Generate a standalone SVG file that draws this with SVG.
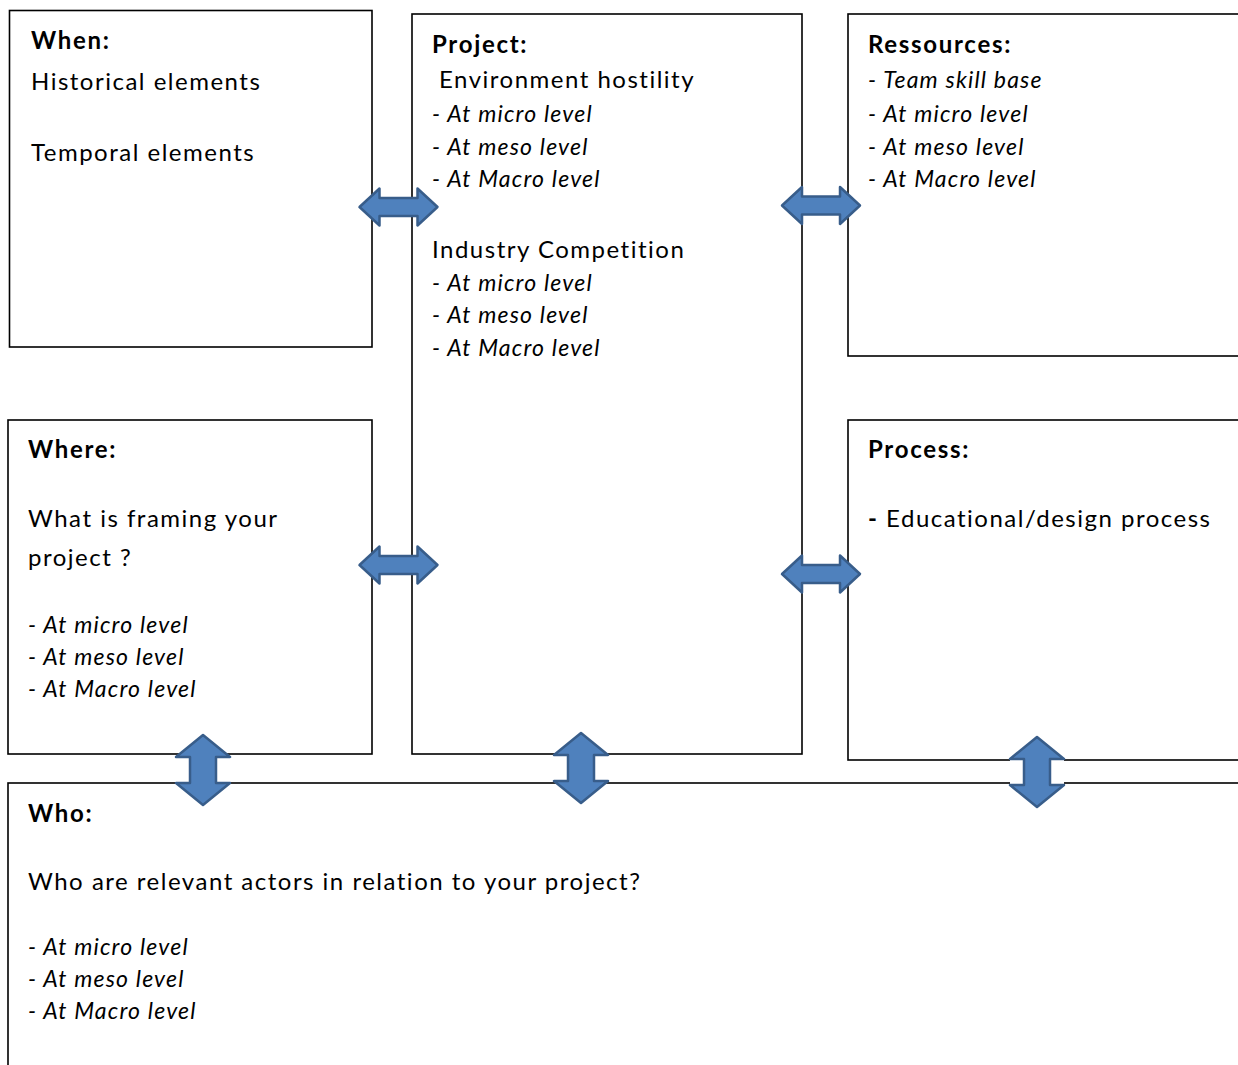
<svg xmlns="http://www.w3.org/2000/svg" width="1238" height="1065" viewBox="0 0 1238 1065" xmlns:xlink="http://www.w3.org/1999/xlink">
<style>
.box{fill:#fff;stroke:#000;stroke-width:1.6}
text{font-family:Lato,"Liberation Sans",sans-serif;fill:#000}
.t{font-size:24px;letter-spacing:1.5px}
.b{font-size:24px;font-weight:bold;letter-spacing:1.7px}
.i{font-size:23px;font-style:italic;letter-spacing:1.2px}
.arr{fill:#4F81BD;stroke:#385D8A;stroke-width:2.5;stroke-linejoin:round}
</style>
<defs>
<path id="harr" d="M-39,0 L-19,-18.5 L-19,-9 L19,-9 L19,-18.5 L39,0 L19,18.5 L19,9 L-19,9 L-19,18.5 Z"/>
<path id="varr" d="M0,-35 L27,-13 L13,-13 L13,13 L27,13 L0,35 L-27,13 L-13,13 L-13,-13 L-27,-13 Z"/>
</defs>
<rect width="1238" height="1065" fill="#fff"/>
<g id="when">
<rect class="box" x="9.5" y="10.5" width="362.5" height="336.5"/>
<text class="b" x="31" y="49">When:</text>
<text class="t" x="31" y="90">Historical elements</text>
<text class="t" x="31" y="161">Temporal elements</text>
</g>
<g id="project">
<rect class="box" x="412" y="14" width="390" height="740"/>
<text class="b" x="432" y="53">Project:</text>
<text class="t" x="439" y="88">Environment hostility</text>
<text class="i" x="432" y="122">- At micro level</text>
<text class="i" x="432" y="155">- At meso level</text>
<text class="i" x="432" y="187">- At Macro level</text>
<text class="t" x="432" y="258">Industry Competition</text>
<text class="i" x="432" y="291">- At micro level</text>
<text class="i" x="432" y="323">- At meso level</text>
<text class="i" x="432" y="356">- At Macro level</text>
</g>
<g id="ressources">
<rect class="box" x="848" y="14" width="400" height="342"/>
<text class="b" x="868" y="53">Ressources:</text>
<text class="i" x="868" y="88">- Team skill base</text>
<text class="i" x="868" y="122">- At micro level</text>
<text class="i" x="868" y="155">- At meso level</text>
<text class="i" x="868" y="187">- At Macro level</text>
</g>
<g id="where">
<rect class="box" x="8" y="420" width="364" height="334"/>
<text class="b" x="28" y="458">Where:</text>
<text class="t" x="28" y="527">What is framing your</text>
<text class="t" x="28" y="566">project ?</text>
<text class="i" x="28" y="633">- At micro level</text>
<text class="i" x="28" y="665">- At meso level</text>
<text class="i" x="28" y="697">- At Macro level</text>
</g>
<g id="process">
<rect class="box" x="848" y="420" width="400" height="340"/>
<text class="b" x="868" y="458">Process:</text>
<text class="t" x="868" y="527"><tspan font-weight="bold">-</tspan> Educational/design process</text>
</g>
<g id="who">
<rect class="box" x="8" y="783" width="1240" height="300"/>
<text class="b" x="28" y="822">Who:</text>
<text class="t" x="28" y="890">Who are relevant actors in relation to your project?</text>
<text class="i" x="28" y="955">- At micro level</text>
<text class="i" x="28" y="987">- At meso level</text>
<text class="i" x="28" y="1019">- At Macro level</text>
</g>
<g id="connectors">
<use class="arr" xlink:href="#harr" href="#harr" transform="translate(398.5,207)"/>
<use class="arr" xlink:href="#harr" href="#harr" transform="translate(821,205.5)"/>
<use class="arr" xlink:href="#harr" href="#harr" transform="translate(398.5,565)"/>
<use class="arr" xlink:href="#harr" href="#harr" transform="translate(821,574)"/>
<rect x="176" y="757" width="54" height="26" fill="#fff"/>
<use class="arr" xlink:href="#varr" href="#varr" transform="translate(203,770)"/>
<rect x="554" y="755" width="54" height="26" fill="#fff"/>
<use class="arr" xlink:href="#varr" href="#varr" transform="translate(581,768)"/>
<rect x="1010" y="759" width="54" height="26" fill="#fff"/>
<use class="arr" xlink:href="#varr" href="#varr" transform="translate(1037,772)"/>
</g>
</svg>
